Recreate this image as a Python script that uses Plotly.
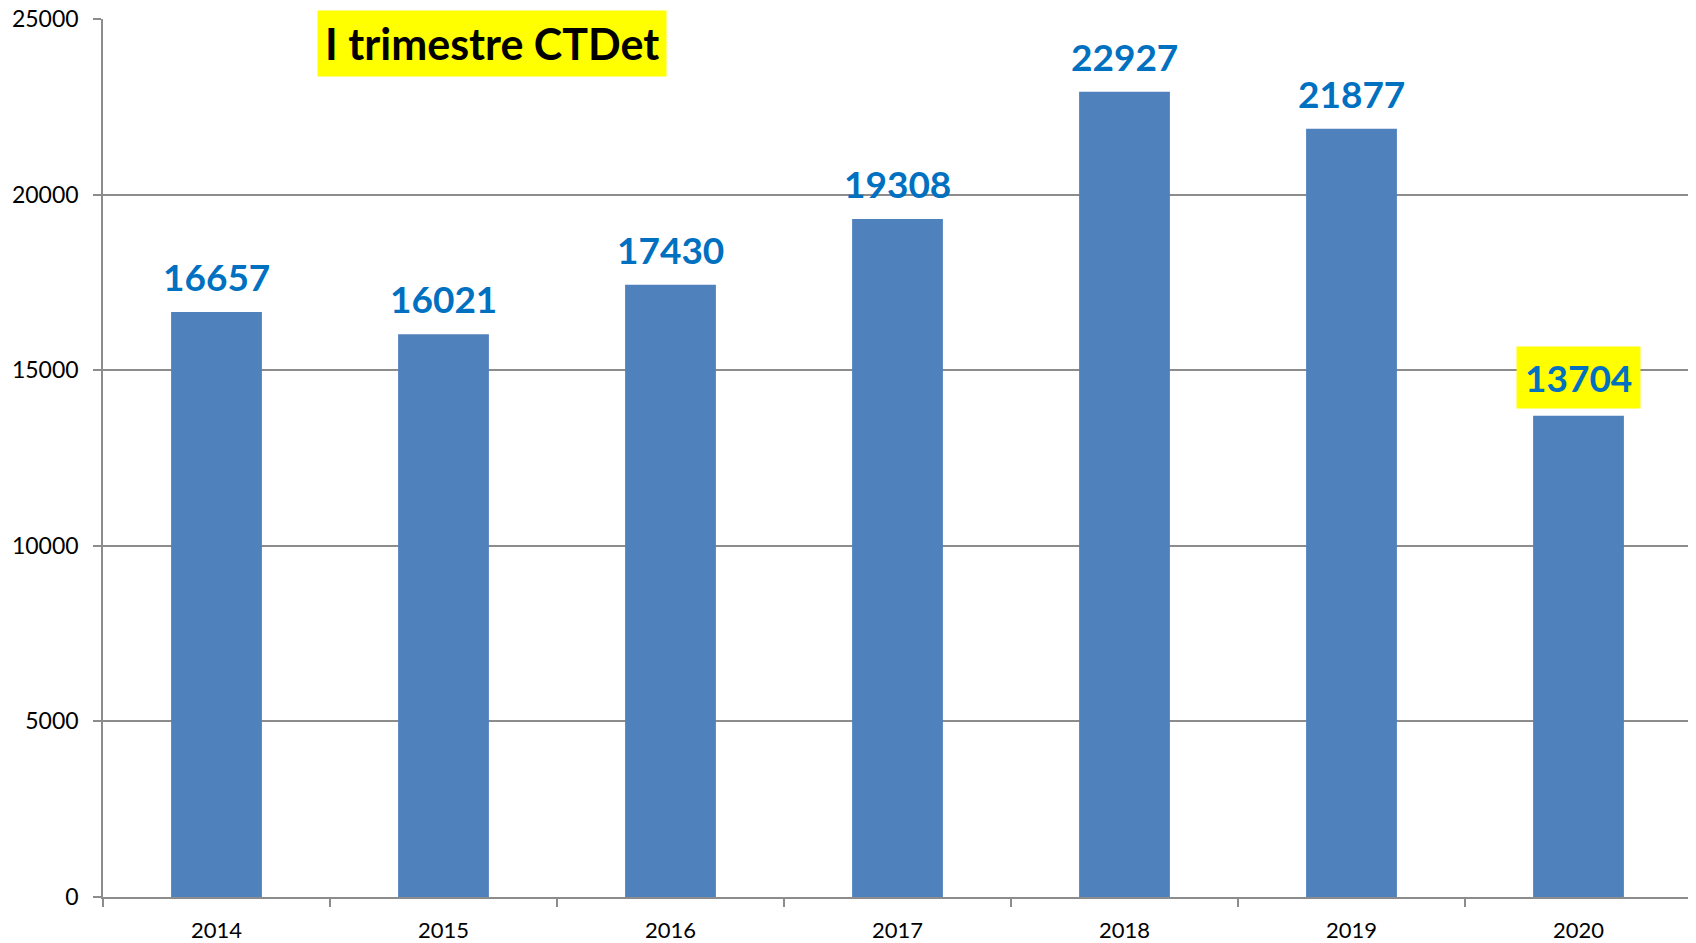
import plotly.graph_objects as go

years = ["2014", "2015", "2016", "2017", "2018", "2019", "2020"]
values = [16657, 16021, 17430, 19308, 22927, 21877, 13704]
y_ticks = [0, 5000, 10000, 15000, 20000, 25000]
y_tick_labels = ["0", "5000", "10000", "15000", "20000", "25000"]
title_text = "I trimestre CTDet"

BAR = "#4F81BD"
LABEL = "#0070C0"
GRID = "#8C8C8C"
FONT = "Lato"

fig = go.Figure()
fig.add_trace(go.Bar(x=years, y=values, marker=dict(color=BAR, line=dict(width=0)),
                     hoverinfo="x+y"))

for i, (yr, v) in enumerate(zip(years, values)):
    highlight = yr == "2020"
    fig.add_annotation(x=i, y=v, xref="x", yref="y", text=str(v), showarrow=False,
                       yanchor="bottom", yshift=7 if highlight else 12,
                       font=dict(family=FONT, size=37, color=LABEL, weight="bold"),
                       bgcolor="#FFFF00" if highlight else "rgba(0,0,0,0)",
                       borderpad=8 if highlight else 0)

fig.add_annotation(x=0.2448, y=0.972, xref="paper", yref="paper", text=title_text,
                   showarrow=False, xanchor="center", yanchor="middle",
                   font=dict(family=FONT, size=43, color="#000000", weight="bold"),
                   bgcolor="#FFFF00", borderpad=7)

fig.update_layout(
    width=1688, height=935,
    margin=dict(l=95, r=4, t=11, b=46, autoexpand=False),
    paper_bgcolor="white", plot_bgcolor="white",
    bargap=0.6, showlegend=False,
    font=dict(family=FONT, color="#000000"),
)
fig.update_xaxes(type="category", range=[-0.5, len(years) - 0.5], showgrid=False,
                 showline=True, linecolor=GRID, linewidth=1.5, automargin=False,
                 ticks="outside", tickson="boundaries", ticklen=8, tickcolor=GRID, tickwidth=1.5,
                 tickangle=0, ticklabeloverflow="allow",
                 tickfont=dict(family=FONT, size=22, color="#000000"), ticklabelstandoff=13)
fig.update_yaxes(range=[0, 25000], tickvals=y_ticks, ticktext=y_tick_labels, automargin=False,
                 showgrid=True, gridcolor=GRID, gridwidth=1.5, ticklabeloverflow="allow",
                 showline=True, linecolor=GRID, linewidth=1.5, zeroline=False,
                 ticks="outside", ticklen=8, tickcolor=GRID, tickwidth=1.5,
                 tickfont=dict(family=FONT, size=23, color="#000000"), ticklabelstandoff=10)

fig.write_html("out.html")
